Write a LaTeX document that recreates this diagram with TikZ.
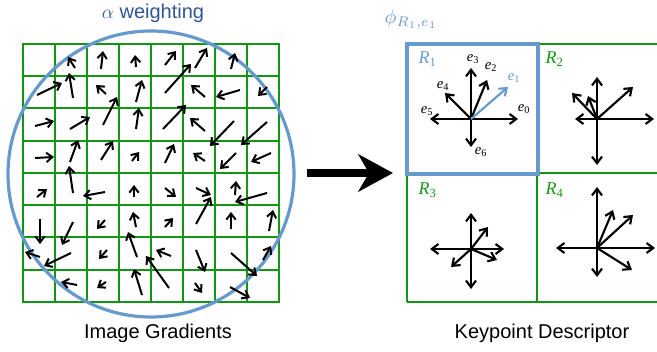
\documentclass[tikz,border=0pt]{standalone}
\usepackage{fontspec}
\setmainfont{Liberation Sans}
\newfontfamily\tms{Liberation Serif}
\usetikzlibrary{arrows.meta}
\definecolor{gridgreen}{RGB}{20,150,20}
\definecolor{wblue}{RGB}{102,153,204}
\definecolor{tblue}{RGB}{47,85,151}
\newcommand\lab[2]{{\tms\itshape #1\textsubscript{\upshape #2}}}
\begin{document}
\begin{tikzpicture}[x=0.75pt,y=-0.75pt,
  grad/.style={line width=1.5pt,-{Straight Barb[length=4.5pt,width=7pt]}},
  bin/.style={line width=1.6pt,-{Straight Barb[length=5pt,width=7.5pt]}},
  thin grid/.style={gridgreen,line width=1.5pt},
  thick grid/.style={gridgreen,line width=2.2pt},
  captxt/.style={font=\fontsize{15}{18}\selectfont},
  elab/.style={font=\fontsize{11}{13}\selectfont},
  rlab/.style={anchor=base west,font=\fontsize{13.5}{15}\selectfont}]
\useasboundingbox (0,0) rectangle (657,352);
\def\wcircle{(151,174) circle (143)}
\def\rbox{(407,44) rectangle (538,174)}
% image gradients
\foreach \i in {1,2,3,5,6,7}{
  \draw[thin grid] (23+32*\i,44) -- (23+32*\i,302);
  \draw[thin grid] (23,44+32.25*\i) -- (279,44+32.25*\i);
}
\draw[thick grid] (23,44) rectangle (279,302);
\draw[thick grid] (151,44) -- (151,302) (23,173) -- (279,173);
\draw[wblue,line width=2.4pt] \wcircle;
\foreach \a/\b/\c/\d in {75/68/68/57,101/69/103/51,136/67/135/55,37/95/62/83,
    73/98/69/73,106/94/96/85,136/102/142/80,35/126/54/121,70/129/90/117,
    103/125/117/97,136/129/139/108,35/158/54/157,70/162/78/140,101/160/113/141,
    132/161/139/152,73/193/69/166,37/197/47/189,105/192/83/196,134/197/134/185,
    40/219/40/244,73/222/62/245,105/220/97/229,136/227/133/212,40/257/25/252,
    71/253/44/266,107/250/99/259,137/257/128/232,77/285/61/282,106/282/97/288,
    142/295/134/269,165/65/176/51,195/68/207/48,231/69/235/53,165/93/191/64,
    205/97/191/85,240/90/216/97,267/87/258/96,163/129/186/105,205/131/190/118,
    234/121/210/146,267/122/241/145,165/163/174/144,205/161/193/153,
    236/153/220/169,271/153/251/162,165/188/176/197,196/188/211/195,
    235/195/236/181,267/193/235/202,165/227/173/218,196/224/211/197,
    231/229/231/212,269/231/273/210,171/256/156/250,169/288/146/256,
    196/250/205/272,231/253/257/276,263/260/271/246,195/283/202/293,
    230/287/250/298}
  \draw[grad] (\a,\b) -- (\c,\d);
\node[tblue,captxt] (title) at (153,13) {$\alpha$ weighting};
\node[captxt] (imglabel) at (158,333) {Image Gradients};
% big arrow
\coordinate (from) at (307,173);
\coordinate (to) at (393,173);
\draw[line width=6pt,-{Stealth[length=26pt,width=28pt,inset=8pt]}] (from) -- (to);
% keypoint descriptor
\draw[thick grid] (537,44) -- (657,44) (407,173) -- (657,173) (407,302) -- (657,302)
  (407,173) -- (407,302) (537,44) -- (537,302);
\draw[wblue,line width=2.6pt] \rbox;
\coordinate (h1) at (471,119);
\coordinate (h2) at (597,119);
\coordinate (h3) at (471,249);
\coordinate (h4) at (597,248);
\foreach \dx/\dy in {47/0,16/-39,0/-51,-26/-26,-41/0,0/28}
  \draw[bin] (h1) -- ++(\dx,\dy);
\draw[bin,wblue] (h1) -- ++(37,-32);
\foreach \dx/\dy in {57/0,-22/0,0/-42,0/46,36/-32,-25/-26,-9/-23}
  \draw[bin] (h2) -- ++(\dx,\dy);
\foreach \dx/\dy in {0/-36,0/40,-41/0,33/0,17/-22,-20/18,26/11}
  \draw[bin] (h3) -- ++(\dx,\dy);
\foreach \dx/\dy in {58/0,-41/0,0/-61,0/29,16/-38,36/-33,35/22}
  \draw[bin] (h4) -- ++(\dx,\dy);
\node[elab] (e0) at (524,109) {\lab{e}{0}};
\node[elab,wblue] (e1) at (514,78) {\lab{e}{1}};
\node[elab] (e2) at (491,67) {\lab{e}{2}};
\node[elab] (e3) at (473,59) {\lab{e}{3}};
\node[elab] (e4) at (443,86) {\lab{e}{4}};
\node[elab] (e5) at (427,111) {\lab{e}{5}};
\node[elab] (e6) at (481,152) {\lab{e}{6}};
\node[rlab,wblue] (r1) at (414,64) {\lab{R}{1}};
\node[rlab,gridgreen] (r2) at (541,64) {\lab{R}{2}};
\node[rlab,gridgreen] (r3) at (414,195) {\lab{R}{3}};
\node[rlab,gridgreen] (r4) at (541,195) {\lab{R}{4}};
\node[wblue,anchor=west] (phi) at (380,19) {\scalebox{1.5}{$\phi_{R_1,e_1}$}};
\node[captxt] (desclabel) at (542,333) {Keypoint Descriptor};
\end{tikzpicture}
\end{document}
